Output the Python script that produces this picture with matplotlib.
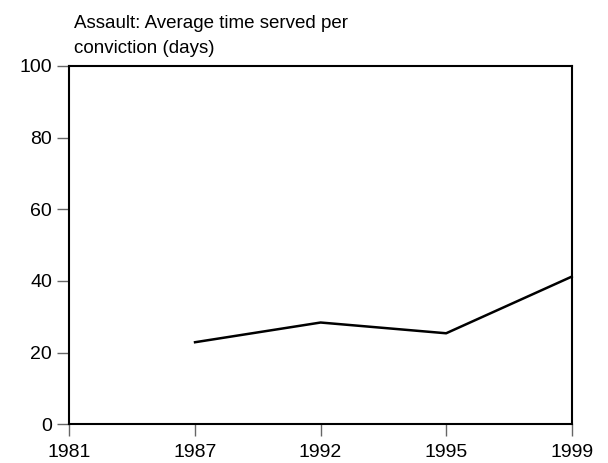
import numpy as np
import matplotlib
matplotlib.use("Agg")
import matplotlib.pyplot as plt

plt.rcParams['font.family'] = ['Liberation Sans', 'DejaVu Sans']

# values
years = ['1981', '1987', '1992', '1995', '1999']
days = [np.nan, 22.9, 28.4, 25.4, 41.2]
y_ticks = [0, 20, 40, 60, 80, 100]
title = 'Assault: Average time served per\nconviction (days)'

fig = plt.figure(figsize=(6.08, 4.63), dpi=100)
ax = fig.add_axes([0.1143, 0.0836, 0.826, 0.774])

x = np.arange(len(years))
ax.plot(x, days, color='black', linewidth=1.8, clip_on=False)

ax.set_xlim(0, len(years) - 1)
ax.set_ylim(0, 100)
ax.set_xticks(x)
ax.set_xticklabels(years)
ax.set_yticks(y_ticks)

for s in ax.spines.values():
    s.set_linewidth(1.5)
    s.set_color('black')

ax.tick_params(axis='both', direction='out', length=8.5, width=1.0,
               color='#666666', labelsize=14)
ax.tick_params(axis='x', pad=6)
ax.tick_params(axis='y', pad=4)

fig.text(0.1217, 0.885, title, fontsize=13.5, ha='left', va='baseline',
         linespacing=1.6)

fig.savefig('out.png', dpi=100)
